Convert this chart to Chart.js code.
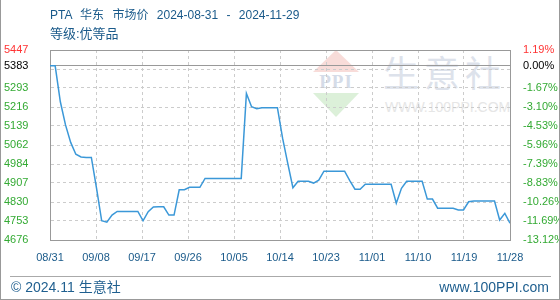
<!DOCTYPE html>
<html>
<head>
<meta charset="utf-8">
<script src="https://cdn.jsdelivr.net/npm/chart.js@4.4.1/dist/chart.umd.min.js"></script>
<style>
  html, body { margin: 0; padding: 0; background: #fff; }
  #wrap { position: relative; width: 560px; height: 300px; overflow: hidden;
          font-family: "Liberation Sans", "Noto Sans CJK SC", sans-serif; }
  .abs { position: absolute; white-space: nowrap; }
  .title { color: #1a5a8a; font-size: 12px; line-height: 15px; word-spacing: 5px; }
  .foot { color: #1f5f8f; font-size: 14px; line-height: 16px; }
  .wm { color: #dde2eb; font-size: 36px; line-height: 40px; letter-spacing: 5px; font-family: "Noto Sans CJK SC", sans-serif; }
  .wm2 { color: #e6e6e6; font-size: 14px; line-height: 16px; }
  canvas { position: absolute; left: 0; top: 0; }
</style>
</head>
<body>
<div id="wrap">
  <!-- watermark -->
  <div class="abs" style="left:313px;top:50px;width:0;height:0;border-left:23px solid transparent;border-right:23px solid transparent;border-bottom:22px solid #f8dcd9;"></div>
  <div class="abs" style="left:313px;top:93px;width:0;height:0;border-left:23px solid transparent;border-right:23px solid transparent;border-top:24px solid #dcf0d9;"></div>
  <div class="abs" style="left:313px;top:71px;width:46px;text-align:center;color:#d5dce8;font:bold 19px 'Liberation Serif',serif;letter-spacing:1px;">PPI</div>
  <div class="abs wm" style="left:383px;top:51px;">生意社</div>
  <div class="abs wm2" style="left:385px;top:99px;">WWW.100PPI.COM</div>

  <canvas id="c" width="560" height="300"></canvas>

  <div class="abs title" style="left:50px;top:8px;">PTA 华东 市场价 2024-08-31 - 2024-11-29</div>
  <div class="abs title" style="left:50px;top:26px;font-size:13px;">等级:优等品</div>

  <div class="abs" style="left:10px;top:276px;width:541px;height:1px;background:#aaa;"></div>
  <div class="abs foot" style="left:11px;top:279px;">© 2024.11 生意社</div>
  <div class="abs foot" style="right:11px;top:279px;">www.100PPI.com</div>

  <div class="abs" style="left:0;top:0;width:1px;height:300px;background:#999;"></div>
  <div class="abs" style="right:0;top:0;width:1px;height:300px;background:#999;"></div>
  <div class="abs" style="left:0;bottom:0;width:560px;height:1px;background:#999;"></div>
</div>

<script>
// PTA east China market price, daily, 08/31 .. 11/28
const prices = [
  5383, 5383, 5237, 5143, 5072, 5024, 5013, 5011, 5011, 4886,
  4754, 4748, 4777, 4792, 4792, 4792, 4792, 4792, 4754, 4791,
  4810, 4811, 4811, 4777, 4777, 4880, 4880, 4890, 4890, 4890,
  4926, 4926, 4926, 4926, 4926, 4926, 4926, 4926, 5271, 5217,
  5209, 5213, 5213, 5213, 5213, 5089, 4987, 4888, 4914, 4914,
  4914, 4907, 4919, 4955, 4955, 4955, 4955, 4955, 4917, 4882,
  4882, 4902, 4902, 4902, 4902, 4902, 4902, 4825, 4886, 4914,
  4914, 4914, 4914, 4842, 4842, 4805, 4805, 4805, 4805, 4798,
  4798, 4831, 4834, 4834, 4834, 4834, 4834, 4757, 4784, 4744
];
const xLabels = ['08/31', '09/08', '09/17', '09/26', '10/05', '10/14', '10/23', '11/01', '11/10', '11/19', '11/28'];

const yMin = 4676;
const yMax = 5447;
const basePrice = 5383;
const leftLabels = ['4676', '4753', '4830', '4907', '4984', '5062', '5139', '5216', '5293', '', '5447'];
const rightLabels = ['-13.12%', '-11.69%', '-10.26%', '-8.83%', '-7.39%', '-5.96%', '-4.53%', '-3.10%', '-1.67%', '', '1.19%'];
const baseLeft = '5383';
const baseRight = '0.00%';

const RED = '#ff3333', GREEN = '#33aa33', BLACK = '#000';

function yTicks(labels, baseLabel) {
  const step = (yMax - yMin) / 10;
  const t = labels.map((txt, i) => ({ value: yMin + i * step, txt: txt, kind: i === 10 ? 'max' : 'grid' }));
  t.push({ value: basePrice, txt: baseLabel, kind: 'base' });
  t.sort((a, b) => a.value - b.value);
  return t;
}

function tickColor(ctx) {
  const k = ctx.tick && ctx.tick.kind;
  if (k === 'max') return RED;
  if (k === 'base') return BLACK;
  return GREEN;
}

const lastX = prices.length - 1;

new Chart(document.getElementById('c'), {
  type: 'line',
  data: {
    datasets: [{
      label: 'PTA',
      data: prices.map((v, i) => ({ x: i, y: v })),
      borderColor: '#3b98d8',
      borderWidth: 1.5,
      pointRadius: 0,
      fill: false,
      tension: 0,
      yAxisID: 'y'
    }]
  },
  options: {
    responsive: false,
    animation: false,
    layout: { padding: { left: 4, top: 50, right: 0, bottom: 0 } },
    plugins: { legend: { display: false }, tooltip: { enabled: false } },
    scales: {
      x: {
        type: 'linear',
        min: 0,
        max: lastX,
        afterBuildTicks: axis => { axis.ticks = xLabels.map((_, i) => ({ value: i * lastX / 10 })); },
        afterFit: axis => { axis.height = 60; },
        ticks: {
          autoSkip: false,
          maxRotation: 0,
          padding: 11,
          color: '#1a5a8a',
          font: { family: 'Liberation Sans', size: 11 },
          callback: (v, i) => xLabels[i]
        },
        grid: { color: '#cccccc', drawTicks: false },
        border: { color: '#999', dash: [3, 3] }
      },
      y: {
        position: 'left',
        min: yMin,
        max: yMax,
        afterBuildTicks: axis => { axis.ticks = yTicks(leftLabels, baseLeft); },
        afterFit: axis => { axis.width = 46; },
        ticks: {
          autoSkip: false,
          crossAlign: 'far',
          color: tickColor,
          font: { family: 'Liberation Sans', size: 11 },
          callback: (v, i, t) => t[i].txt
        },
        grid: {
          drawTicks: false,
          color: ctx => (ctx.tick && ctx.tick.kind !== 'grid') ? '#999' : '#cccccc'
        },
        border: {
          color: '#999',
          dash: ctx => (ctx.tick && ctx.tick.kind !== 'grid') ? [] : [3, 3]
        }
      },
      y2: {
        position: 'right',
        min: yMin,
        max: yMax,
        afterBuildTicks: axis => { axis.ticks = yTicks(rightLabels, baseRight); },
        afterFit: axis => { axis.width = 50; },
        ticks: {
          autoSkip: false,
          padding: 5,
          color: tickColor,
          font: { family: 'Liberation Sans', size: 11 },
          callback: (v, i, t) => t[i].txt
        },
        grid: { display: false },
        border: { color: '#999' }
      }
    }
  }
});
</script>
</body>
</html>
